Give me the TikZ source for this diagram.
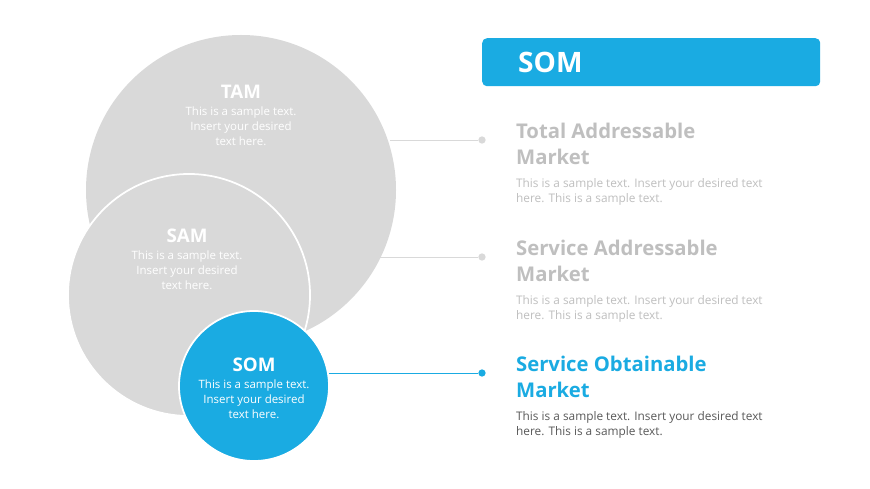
\documentclass[tikz,border=0pt]{standalone}
\usepackage{fontspec}
\setmainfont{Open Sans}
\usetikzlibrary{positioning}
\definecolor{somblue}{HTML}{1AABE2}
\definecolor{circgray}{HTML}{D9D9D9}
\definecolor{txtgray}{HTML}{BFBFBF}
\definecolor{bodygray}{HTML}{595959}
\tikzset{
  circtitle/.style={font=\fontsize{16}{18}\selectfont\bfseries, text=white},
  circbody/.style={font=\fontsize{9.8}{12.8}\selectfont, text=white, align=center},
  headtitle/.style={font=\fontsize{17.3}{22}\selectfont\bfseries, anchor=north west, align=left},
  bodytext/.style={font=\fontsize{10.1}{12.8}\selectfont, anchor=north west, align=left},
  link/.style={line width=0.6pt},
}
\begin{document}
\begin{tikzpicture}[x=0.03cm, y=-0.03cm]
\useasboundingbox[fill=white] (0,0) rectangle (870,489);

% Circles
\fill[circgray] (241,190) circle (155);
\filldraw[circgray, draw=white, line width=1.5pt] (189,295) circle (121);
\filldraw[somblue, draw=white, line width=1.5pt] (254,386) circle (75);

% Circle texts
\node[circtitle] (tam) at (241,92) {TAM};
\node[circbody, below=0pt of tam] (tamtxt) {This is a sample text.\\Insert your desired\\text here.};
\node[circtitle] (sam) at (187,236) {SAM};
\node[circbody, below=0pt of sam] (samtxt) {This is a sample text.\\Insert your desired\\text here.};
\node[circtitle] (som) at (254,365) {SOM};
\node[circbody, below=0pt of som] (somtxt) {This is a sample text.\\Insert your desired\\text here.};

% Header
\node[fill=somblue, rounded corners=4pt, minimum width=338*0.03cm, minimum height=48*0.03cm, anchor=north west] (head) at (482,38) {};
\node[font=\fontsize{24}{28}\selectfont\bfseries, text=white, anchor=west] (headlbl) at (514,62) {SOM};

% Right side
\coordinate (tamfrom) at (390,140);
\coordinate (samfrom) at (306,257);
\coordinate (somfrom) at (329,373);
\node[circle, fill=circgray, inner sep=2.2pt] (tamdot) at (482,140) {};
\node[circle, fill=circgray, inner sep=2.2pt] (samdot) at (482,257) {};
\node[circle, fill=somblue, inner sep=2.2pt] (somdot) at (482,373) {};
\draw[link, circgray] (tamfrom) -- (tamdot);
\draw[link, circgray] (samfrom) -- (samdot);
\draw[link, somblue] (somfrom) -- (somdot);

\node[headtitle, text=txtgray] (tamhead) at (512,119) {Total Addressable\\Market};
\node[bodytext, text=txtgray] (tambody) at (512,174) {This is a sample text. Insert your desired text\\here. This is a sample text.};
\node[headtitle, text=txtgray] (samhead) at (512,236) {Service Addressable\\Market};
\node[bodytext, text=txtgray] (sambody) at (512,291) {This is a sample text. Insert your desired text\\here. This is a sample text.};
\node[headtitle, text=somblue] (somhead) at (512,352) {Service Obtainable\\Market};
\node[bodytext, text=bodygray] (sombody) at (512,407) {This is a sample text. Insert your desired text\\here. This is a sample text.};
\end{tikzpicture}
\end{document}
